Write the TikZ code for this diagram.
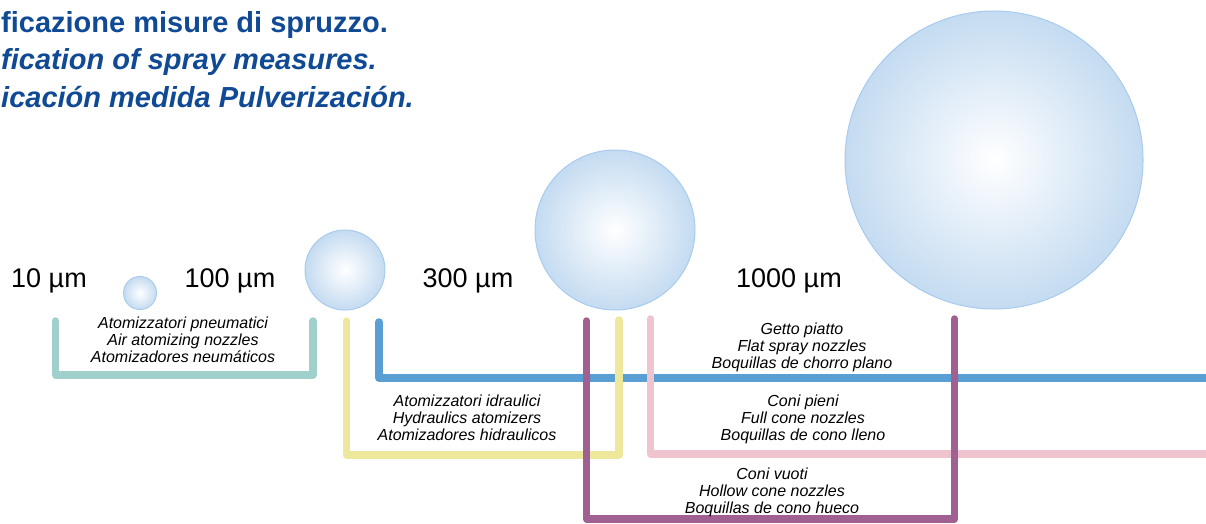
\documentclass[tikz,border=0pt]{standalone}
\usepackage{fontspec}
\setmainfont{Liberation Sans}
\definecolor{titleblue}{RGB}{16,74,148}
\definecolor{bubbleedge}{RGB}{168,203,238}
\definecolor{bubbleout}{RGB}{196,219,241}
\definecolor{pneumteal}{RGB}{160,208,204}
\definecolor{hydryellow}{RGB}{238,232,156}
\definecolor{flatblue}{RGB}{90,159,212}
\definecolor{fullpink}{RGB}{240,196,207}
\definecolor{hollowpurple}{RGB}{160,96,146}
\tikzset{
	bubble/.style={circle, inner sep=0pt, draw=bubbleedge, line width=1pt, shading=radial, inner color=white, outer color=bubbleout},
	bracket/.style={line width=7.5pt, line cap=round, line join=round},
	sizelabel/.style={anchor=base, inner sep=0pt, font=\fontsize{27}{30}\selectfont},
	nozzletext/.style={align=center, inner sep=0pt, font=\fontsize{16}{17}\selectfont\itshape},
	headline/.style={anchor=base west, inner sep=0pt, text=titleblue, font=\fontsize{29}{34}\selectfont\bfseries}
}

\begin{document}
\begin{tikzpicture}[x=1pt, y=-1pt]
		%%%%% START %%%%%
		\useasboundingbox (0, 0) rectangle (1206, 524);
		
		\node[headline] (titleit) at (1, 33) {ficazione misure di spruzzo.};
		\node[headline, font=\fontsize{29}{34}\selectfont\bfseries\itshape] (titleen) at (1, 70) {fication of spray measures.};
		\node[headline, font=\fontsize{29}{34}\selectfont\bfseries\itshape] (titlees) at (1, 108) {icación medida Pulverización.};
		
		\node[bubble, minimum size=33] (drop10) at (140, 293) {};
		\node[bubble, minimum size=80] (drop100) at (345, 270) {};
		\node[bubble, minimum size=160] (drop300) at (615, 230) {};
		\node[bubble, minimum size=298] (drop1000) at (994, 160) {};
		
		\node[sizelabel] (size10) at (49, 287) {10 µm};
		\node[sizelabel] (size100) at (230, 287) {100 µm};
		\node[sizelabel] (size300) at (468, 287) {300 µm};
		\node[sizelabel] (size1000) at (789, 287) {1000 µm};
		
		\coordinate (pneumA) at (55.5, 321);
		\coordinate (pneumB) at (313, 321);
		\draw[bracket, pneumteal] (pneumA) |- (313, 375) -- (pneumB);
		
		\coordinate (flatA) at (379, 322);
		\coordinate (flatB) at (1212, 378);
		\draw[bracket, flatblue] (flatA) |- (flatB);
		
		\coordinate (hydrA) at (346.5, 321);
		\coordinate (hydrB) at (619, 320);
		\draw[bracket, hydryellow] (hydrA) |- (619, 455) -- (hydrB);
		
		\coordinate (fullA) at (650.5, 319);
		\coordinate (fullB) at (1212, 454);
		\draw[bracket, fullpink] (fullA) |- (fullB);
		
		\coordinate (hollowA) at (586.5, 321);
		\coordinate (hollowB) at (954.5, 319);
		\draw[bracket, hollowpurple] (hollowA) |- (954.5, 519) -- (hollowB);
		
		\node[nozzletext] (pneumtext) at (183, 340) {Atomizzatori pneumatici\\Air atomizing nozzles\\Atomizadores neumáticos};
		\node[nozzletext] (hydrtext) at (467, 418) {Atomizzatori idraulici\\Hydraulics atomizers\\Atomizadores hidraulicos};
		\node[nozzletext] (flattext) at (802, 347) {Getto piatto\\Flat spray nozzles\\Boquillas de chorro plano};
		\node[nozzletext] (fulltext) at (803, 419) {Coni pieni\\Full cone nozzles\\Boquillas de cono lleno};
		\node[nozzletext] (hollowtext) at (772, 492) {Coni vuoti\\Hollow cone nozzles\\Boquillas de cono hueco};
		
		%%%%% END %%%%%
	\end{tikzpicture}
\end{document}
